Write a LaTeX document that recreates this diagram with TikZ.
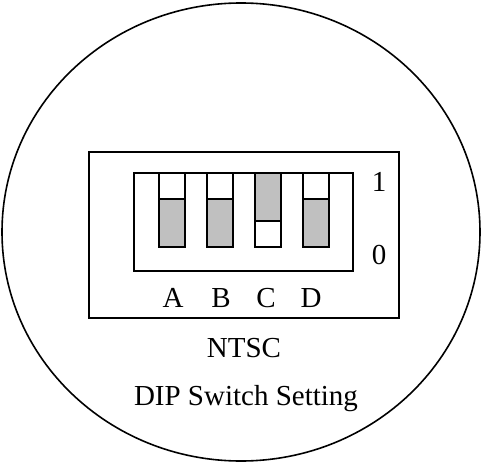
\documentclass[tikz,border=0pt]{standalone}
\usepackage{fontspec}
\setmainfont{Liberation Serif}
\definecolor{switchgray}{RGB}{192,192,192}
\tikzset{
    frame/.style={draw, line width=1.6pt},
    lever/.style={draw, line width=1.6pt, fill=switchgray},
    label/.style={font=\fontsize{29}{34}\selectfont, inner sep=0pt, anchor=base},
}
\begin{document}
\begin{tikzpicture}[x=1pt, y=-1pt]
    \useasboundingbox (0, 0) rectangle (482, 463);

    % Round face
    \draw[frame] (241, 232) ellipse [x radius=239, y radius=229];

    % Switch housing
    \draw[frame] (89, 152) rectangle (399, 318);
    \draw[frame] (134, 173) rectangle (353, 271);

    % Switches A-D (C is set to 1)
    \foreach \x/\name/\up/\lx in {159/A/0/173, 207/B/0/221, 255/C/1/266, 303/D/0/311} {
        \ifnum\up=1
            \draw[lever] (\x, 173) rectangle (\x+26, 221);
            \draw[frame, fill=white] (\x, 221) rectangle (\x+26, 247);
        \else
            \draw[frame, fill=white] (\x, 173) rectangle (\x+26, 199);
            \draw[lever] (\x, 199) rectangle (\x+26, 247);
        \fi
        \node[label] (lbl\name) at (\lx, 307) {\name};
    }

    \node[label] (on)  at (379, 191) {1};
    \node[label] (off) at (379, 264) {0};

    \node[label] (mode)  at (244, 357) {NTSC};
    \node[label] (title) at (246, 405) {DIP Switch Setting};
\end{tikzpicture}
\end{document}
